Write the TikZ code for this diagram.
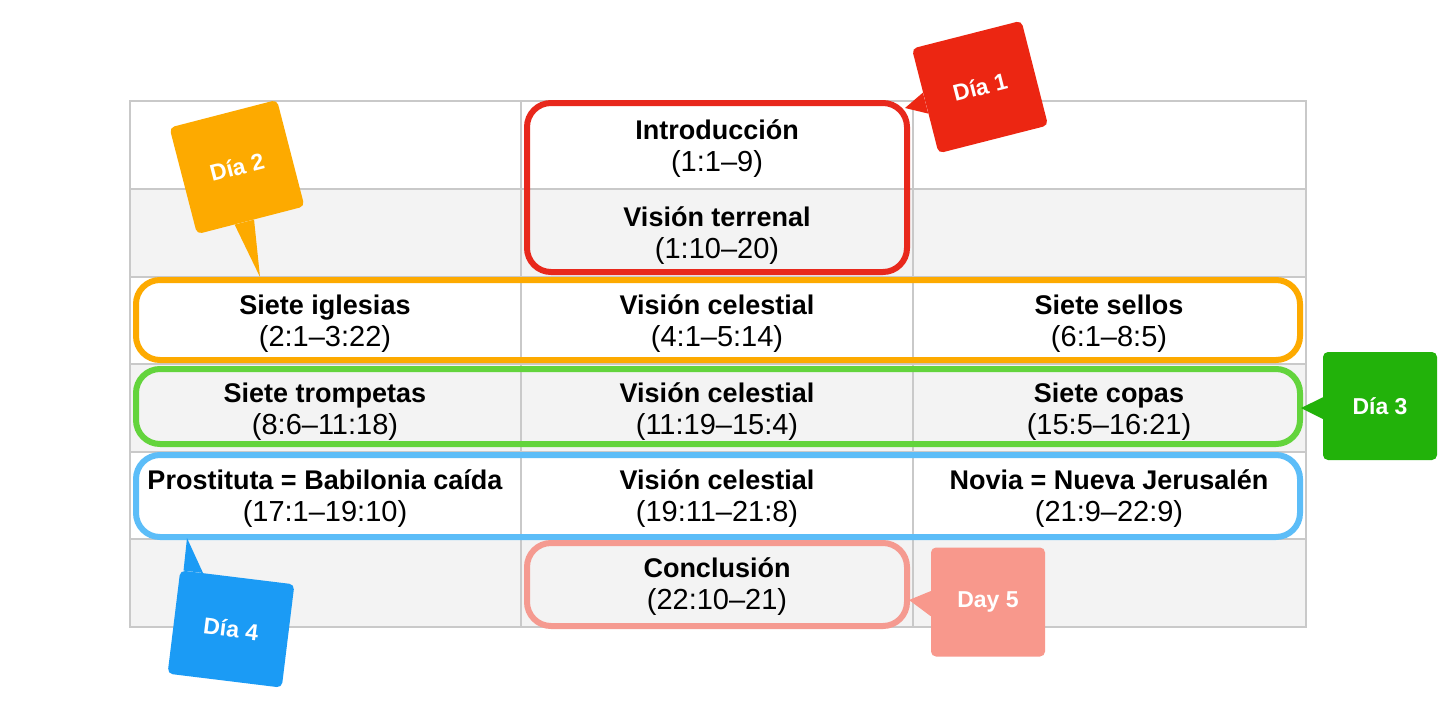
\documentclass[tikz,border=0pt]{standalone}
\usepackage{fontspec}
\setmainfont{Liberation Sans}
\usetikzlibrary{calc}
\definecolor{rowgray}{HTML}{F3F3F3}
\definecolor{gridc}{HTML}{C9C9C9}
\definecolor{redline}{HTML}{E8281C}
\definecolor{redfill}{HTML}{EC2612}
\definecolor{orangec}{HTML}{FDAA00}
\definecolor{greenline}{HTML}{63D43C}
\definecolor{greenfill}{HTML}{22B20A}
\definecolor{blueline}{HTML}{5CBDF8}
\definecolor{bluefill}{HTML}{1B9BF5}
\definecolor{pinkline}{HTML}{F59A90}
\definecolor{pinkfill}{HTML}{F8988C}
\newcommand\reftext[1]{{\fontsize{29}{32}\selectfont #1}}
\begin{document}
\begin{tikzpicture}[x=1pt,y=-1pt,
  gridline/.style={draw=gridc,line width=1.2pt},
  cell/.style={font=\fontsize{27}{32}\selectfont,align=center,inner sep=0pt,text=black},
  hlbox/.style={draw,line width=6pt,rounded corners=24pt,inner sep=0pt},
  callout/.style={rounded corners=5pt,inner sep=0pt,text=white,font=\bfseries\fontsize{23}{26}\selectfont}]
\useasboundingbox (0,0) rectangle (1450,704);
\fill[white] (0,0) rectangle (1450,704);
% row shading
\fill[rowgray] (130,189) rectangle (1306,277);
\fill[rowgray] (130,364) rectangle (1306,452);
\fill[rowgray] (130,539) rectangle (1306,627);
% grid
\draw[gridline] (130,101) rectangle (1306,627);
\foreach \y in {189,277,364,452,539} \draw[gridline] (130,\y) -- (1306,\y);
\foreach \x in {521,913} \draw[gridline] (\x,101) -- (\x,627);
% cells
\node[cell] (intro) at (717,149) {\textbf{Introducción}\\\reftext{(1:1–9)}};
\node[cell] (terrenal) at (717,236) {\textbf{Visión terrenal}\\\reftext{(1:10–20)}};
\node[cell] (iglesias) at (325,324) {\textbf{Siete iglesias}\\\reftext{(2:1–3:22)}};
\node[cell] (celeste1) at (717,324) {\textbf{Visión celestial}\\\reftext{(4:1–5:14)}};
\node[cell] (sellos) at (1109,324) {\textbf{Siete sellos}\\\reftext{(6:1–8:5)}};
\node[cell] (trompetas) at (325,412) {\textbf{Siete trompetas}\\\reftext{(8:6–11:18)}};
\node[cell] (celeste2) at (717,412) {\textbf{Visión celestial}\\\reftext{(11:19–15:4)}};
\node[cell] (copas) at (1109,412) {\textbf{Siete copas}\\\reftext{(15:5–16:21)}};
\node[cell] (prostituta) at (325,499) {\textbf{Prostituta = Babilonia caída}\\\reftext{(17:1–19:10)}};
\node[cell] (celeste3) at (717,499) {\textbf{Visión celestial}\\\reftext{(19:11–21:8)}};
\node[cell] (novia) at (1109,499) {\textbf{Novia = Nueva Jerusalén}\\\reftext{(21:9–22:9)}};
\node[cell] (conclusion) at (717,587) {\textbf{Conclusión}\\\reftext{(22:10–21)}};
% highlight boxes
\node[hlbox,draw=redline,minimum width=380pt,minimum height=169pt] (b1) at (717,187.5) {};
\node[hlbox,draw=orangec,minimum width=1164pt,minimum height=80pt] (b2) at (718,320) {};
\node[hlbox,draw=greenline,minimum width=1164pt,minimum height=75pt] (b3) at (718,406.5) {};
\node[hlbox,draw=blueline,minimum width=1164pt,minimum height=82pt] (b4) at (718,496) {};
\node[hlbox,draw=pinkline,minimum width=380pt,minimum height=83pt] (b5) at (717,584.5) {};
% callouts
\node[callout,fill=redfill,rotate=14.3,minimum width=113pt,minimum height=108pt] (d1) at (980,87) {Día 1};
\coordinate (t1) at (905,108);
\fill[redfill] ($(d1.north west)!0.42!(d1.south west)$) -- (t1) -- ($(d1.north west)!0.62!(d1.south west)$) -- cycle;

\node[callout,fill=orangec,rotate=14.5,minimum width=111pt,minimum height=110pt] (d2) at (237,167) {Día 2};
\coordinate (t2) at (260,277);
\fill[orangec] ($(d2.south west)!0.35!(d2.south east)$) -- (t2) -- ($(d2.south west)!0.53!(d2.south east)$) -- cycle;

\node[callout,fill=greenfill,minimum width=114pt,minimum height=108pt] (d3) at (1380,406) {Día 3};
\coordinate (t3) at (1301,408);
\fill[greenfill] ($(d3.north west)!0.42!(d3.south west)$) -- (t3) -- ($(d3.north west)!0.62!(d3.south west)$) -- cycle;

\node[callout,fill=bluefill,rotate=-7,minimum width=115pt,minimum height=104pt] (d4) at (231,629) {Día 4};
\coordinate (t4) at (187,538);
\fill[bluefill] ($(d4.north west)!0.03!(d4.north east)$) -- (t4) -- ($(d4.north west)!0.2!(d4.north east)$) -- cycle;

\node[callout,fill=pinkfill,minimum width=114pt,minimum height=109pt] (d5) at (988,602) {Day 5};
\coordinate (t5) at (909,600);
\fill[pinkfill] ($(d5.north west)!0.4!(d5.south west)$) -- (t5) -- ($(d5.north west)!0.63!(d5.south west)$) -- cycle;
\end{tikzpicture}
\end{document}
